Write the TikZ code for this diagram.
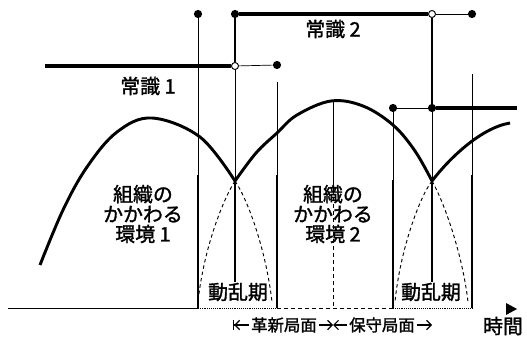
\documentclass[tikz,border=0pt]{standalone}
\usepackage{fontspec}
\setmainfont{Noto Sans CJK JP}[FakeBold=1.5]
\usetikzlibrary{arrows.meta}
\tikzset{
  wave/.style={line width=2.5pt},
  wavedash/.style={line width=0.8pt, dash pattern=on 3pt off 2.5pt},
  rule/.style={line width=2.6pt},
  guide/.style={line width=0.6pt},
  post/.style={line width=1.2pt},
  span/.style={line width=0.9pt},
  dot/.style={circle, fill=black, inner sep=0pt, minimum size=7pt},
  hole/.style={circle, draw, fill=white, line width=0.8pt, inner sep=0pt, minimum size=6pt},
  lbl/.style={font=\fontsize{17pt}{17pt}\selectfont, inner sep=1pt, align=center},
  phase/.style={font=\fontsize{14pt}{14pt}\selectfont, inner sep=1.5pt}
}
\begin{document}
\begin{tikzpicture}[x=0.03cm, y=-0.03cm, >={Straight Barb[length=4pt,width=8pt,line width=1pt]}]
\useasboundingbox (0,0) rectangle (527,340);

% Step points
\node[dot] (t1) at (198,14) {};
\node[dot] (s2) at (235,14) {};
\node[hole] (o1) at (235,66) {};
\node[dot] (e1) at (277,65) {};
\node[hole] (o2) at (432,14) {};
\node[dot] (e2) at (472,14) {};
\node[dot] (b3) at (393,108) {};
\node[dot] (s3) at (432,108) {};
\coordinate (a1) at (45,66);
\coordinate (a3) at (517,108);

% Common sense 1
\draw[rule] (a1) -- (o1);
\draw[guide] (o1) -- (e1);

% Common sense 2
\draw[post] (s2) -- (o1);
\draw[rule] (s2) -- (o2);
\draw[guide] (o2) -- (e2);
\draw[post] (o2) -- (s3);

% Common sense 3
\draw[guide] (b3) -- (s3);
\draw[rule] (s3) -- (a3);

% Time axis
\draw[guide] (8,308) -- (198,308);
\draw[guide, densely dotted] (198,308) -- (277,308);
\draw[guide, dashed] (277,308) -- (393,308);
\draw[guide, densely dotted] (393,308) -- (473,308);
\fill (506,303) -- (517,309) -- (506,315) -- cycle;

% Period borders
\draw[guide] (t1) -- (198,175);
\draw[post] (198,175) -- (198,308);
\draw[guide] (o1) -- (235,180);
\draw[post] (235,180) -- (235,300);
\draw[guide] (277,82) -- (277,175);
\draw[post] (277,175) -- (277,308);
\draw[guide] (333,101) -- (333,190);
\draw[guide, dashed] (333,190) -- (333,308);
\draw[guide] (b3) -- (393,180);
\draw[post] (393,180) -- (393,308);
\draw[guide] (s3) -- (432,182);
\draw[post] (432,182) -- (432,300);
\draw[guide] (472,74) -- (472,175);
\draw[post] (472,175) -- (472,308);

% Environment 1
\draw[wave] plot[smooth, tension=0.6] coordinates {(40,265) (63,210) (87,167) (117,132) (152,118) (200,137) (235,181)};
\draw[wavedash] (235,181) .. controls (248,200) and (266,250) .. (272,302);

% Environment 2
\draw[wave] plot[smooth, tension=0.6] coordinates {(235,181) (256,153) (277,133) (297,115) (331,101) (363,106) (393,125) (415,151) (432,181)};
\draw[wavedash] (235,181) .. controls (225,196) and (204,245) .. (198,302);
\draw[wavedash] (432,181) .. controls (442,198) and (462,250) .. (468,302);

% Environment 3
\draw[wave] (432,181) .. controls (448,160) and (480,128) .. (510,123);
\draw[wavedash] (432,181) .. controls (420,196) and (400,250) .. (395,302);

% Labels
\node[lbl] (cs1) at (148,86) {常識 1};
\node[lbl] (cs2) at (333,29) {常識 2};
\node[lbl] (env1) at (143,214) {組織の\\かかわる\\環境 1};
\node[lbl] (env2) at (333,214) {組織の\\かかわる\\環境 2};
\node[lbl, fill=white] (tur1) at (238,292) {動乱期};
\node[lbl, fill=white] (tur2) at (431,292) {動乱期};
\node[lbl] (time) at (503,326) {時間};

% Phases
\coordinate (k0) at (233,325);
\coordinate (k1) at (333,325);
\coordinate (k2) at (432,325);
\node[phase] (inno) at (284,325) {革新局面};
\node[phase] (cons) at (382,325) {保守局面};
\draw[span, {Bar[width=9pt,line width=1pt]Straight Barb[length=4pt,width=8pt,line width=1pt]}-] (k0) -- (inno);
\draw[span, ->] (inno) -- (k1);
\draw[span, <-] (k1) -- (cons);
\draw[span, ->] (cons) -- (k2);

\end{tikzpicture}
\end{document}
